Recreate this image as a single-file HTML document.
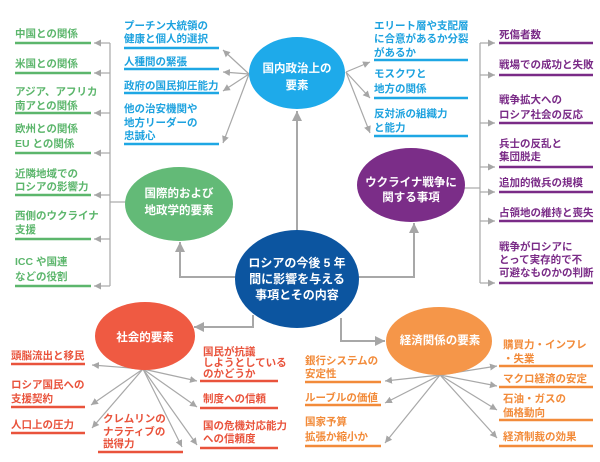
<!DOCTYPE html>
<html><head><meta charset="utf-8">
<style>
html,body{margin:0;padding:0;background:#fff;}
svg{display:block;}
text{font-family:"Liberation Sans","Noto Sans CJK JP",sans-serif;font-weight:bold;font-size:10.5px;}
.b{fill:#1da2df}.g{fill:#5cb66c}.p{fill:#7a2b87}.r{fill:#e9533c}.o{fill:#f28b3a}
.w{fill:#fff;font-size:11.5px;text-anchor:middle}
</style></head><body>
<svg width="600" height="462" viewBox="0 0 600 462" xmlns="http://www.w3.org/2000/svg">
<defs>
<marker id="s" markerUnits="userSpaceOnUse" markerWidth="8" markerHeight="8" refX="7" refY="4" orient="auto"><path d="M0,0.5 L7,4 L0,7.5 z" fill="#a6a6a6"/></marker>
<marker id="m" markerUnits="userSpaceOnUse" markerWidth="11" markerHeight="11" refX="10" refY="5.5" orient="auto"><path d="M0,0.5 L10,5.5 L0,10.5 z" fill="#a6a6a6"/></marker>
</defs>

<!-- main connectors -->
<g stroke="#a8a8a8" stroke-width="2" fill="none">
<line x1="297" y1="232" x2="297" y2="111" marker-end="url(#m)"/>
<polyline points="236,277 180,277 180,242" marker-end="url(#m)"/>
<polyline points="358,277 414,277 414,223" marker-end="url(#m)"/>
<polyline points="253,315 253,327 194,327" marker-end="url(#m)"/>
<polyline points="341,318 341,341 385,341" marker-end="url(#m)"/>
</g>

<!-- fan-out connectors -->
<g stroke="#a8a8a8" stroke-width="1.2" fill="none">
<line x1="249" y1="74" x2="223" y2="50" marker-end="url(#s)"/>
<line x1="249" y1="74" x2="223" y2="72" marker-end="url(#s)"/>
<line x1="249" y1="74" x2="223" y2="91" marker-end="url(#s)"/>
<line x1="249" y1="74" x2="223" y2="143" marker-end="url(#s)"/>
<line x1="346" y1="72" x2="370" y2="62" marker-end="url(#s)"/>
<line x1="346" y1="72" x2="370" y2="98" marker-end="url(#s)"/>
<line x1="346" y1="72" x2="370" y2="133" marker-end="url(#s)"/>

<line x1="464" y1="188" x2="480" y2="188"/>
<line x1="480" y1="43" x2="480" y2="283"/>
<line x1="480" y1="43" x2="495" y2="43" marker-end="url(#s)"/>
<line x1="480" y1="75" x2="495" y2="75" marker-end="url(#s)"/>
<line x1="480" y1="123" x2="495" y2="123" marker-end="url(#s)"/>
<line x1="480" y1="167" x2="495" y2="167" marker-end="url(#s)"/>
<line x1="480" y1="192" x2="495" y2="192" marker-end="url(#s)"/>
<line x1="480" y1="221" x2="495" y2="221" marker-end="url(#s)"/>
<line x1="480" y1="283" x2="495" y2="283" marker-end="url(#s)"/>

<line x1="126" y1="202" x2="110" y2="202"/>
<line x1="110" y1="43" x2="110" y2="286"/>
<line x1="110" y1="43" x2="94" y2="43" marker-end="url(#s)"/>
<line x1="110" y1="73" x2="94" y2="73" marker-end="url(#s)"/>
<line x1="110" y1="113" x2="94" y2="113" marker-end="url(#s)"/>
<line x1="110" y1="153" x2="94" y2="153" marker-end="url(#s)"/>
<line x1="110" y1="195" x2="94" y2="195" marker-end="url(#s)"/>
<line x1="110" y1="239" x2="94" y2="239" marker-end="url(#s)"/>
<line x1="110" y1="286" x2="94" y2="286" marker-end="url(#s)"/>

<line x1="143" y1="369" x2="92" y2="365" marker-end="url(#s)"/>
<line x1="143" y1="369" x2="91" y2="405" marker-end="url(#s)"/>
<line x1="143" y1="369" x2="92" y2="428" marker-end="url(#s)"/>
<line x1="143" y1="369" x2="182" y2="447" marker-end="url(#s)"/>
<line x1="143" y1="369" x2="197" y2="381" marker-end="url(#s)"/>
<line x1="143" y1="369" x2="197" y2="407" marker-end="url(#s)"/>
<line x1="143" y1="369" x2="197" y2="445" marker-end="url(#s)"/>

<line x1="440" y1="375" x2="385" y2="381" marker-end="url(#s)"/>
<line x1="440" y1="375" x2="385" y2="403" marker-end="url(#s)"/>
<line x1="440" y1="375" x2="385" y2="443" marker-end="url(#s)"/>
<line x1="440" y1="375" x2="497" y2="366" marker-end="url(#s)"/>
<line x1="440" y1="375" x2="497" y2="386" marker-end="url(#s)"/>
<line x1="440" y1="375" x2="497" y2="410" marker-end="url(#s)"/>
<line x1="440" y1="375" x2="497" y2="438" marker-end="url(#s)"/>
</g>

<!-- ellipses -->
<ellipse cx="297" cy="73" rx="48" ry="36" fill="#1eaaea"/>
<ellipse cx="179" cy="204" rx="54" ry="37" fill="#63ba77"/>
<ellipse cx="411" cy="185" rx="54" ry="37" fill="#7b2d88"/>
<ellipse cx="297" cy="279" rx="62" ry="49" fill="#0c55a0"/>
<ellipse cx="145" cy="336" rx="50" ry="34" fill="#ef5a42"/>
<ellipse cx="439" cy="341" rx="53" ry="34" fill="#f59649"/>

<!-- ellipse labels -->
<text class="w" x="297" y="72">国内政治上の</text>
<text class="w" x="297" y="89">要素</text>
<text class="w" x="179" y="197">国際的および</text>
<text class="w" x="179" y="214">地政学的要素</text>
<text class="w" x="411" y="186">ウクライナ戦争に</text>
<text class="w" x="411" y="201">関する事項</text>
<text class="w" x="297" y="267" style="font-size:12px">ロシアの今後 5 年</text>
<text class="w" x="297" y="283" style="font-size:12px">間に影響を与える</text>
<text class="w" x="297" y="299" style="font-size:12px">事項とその内容</text>
<text class="w" x="145" y="341">社会的要素</text>
<text class="w" x="440" y="344">経済関係の要素</text>

<!-- underlines -->
<g stroke-width="2.5">
<g stroke="#1ea7e4">
<line x1="124" y1="48" x2="219" y2="48"/>
<line x1="124" y1="69" x2="219" y2="69"/>
<line x1="124" y1="93" x2="219" y2="93"/>
<line x1="124" y1="144" x2="219" y2="144"/>
<line x1="374" y1="60" x2="468" y2="60"/>
<line x1="374" y1="98" x2="468" y2="98"/>
<line x1="374" y1="136" x2="468" y2="136"/>
</g>
<g stroke="#7a2b87">
<line x1="499" y1="43" x2="593" y2="43"/>
<line x1="499" y1="75" x2="593" y2="75"/>
<line x1="499" y1="123" x2="593" y2="123"/>
<line x1="499" y1="167" x2="593" y2="167"/>
<line x1="499" y1="192" x2="593" y2="192"/>
<line x1="499" y1="221" x2="593" y2="221"/>
<line x1="499" y1="283" x2="593" y2="283"/>
</g>
<g stroke="#5cb66c">
<line x1="15" y1="43" x2="91" y2="43"/>
<line x1="15" y1="73" x2="91" y2="73"/>
<line x1="15" y1="113" x2="91" y2="113"/>
<line x1="15" y1="153" x2="91" y2="153"/>
<line x1="15" y1="195" x2="91" y2="195"/>
<line x1="15" y1="239" x2="91" y2="239"/>
<line x1="15" y1="286" x2="91" y2="286"/>
</g>
<g stroke="#e9533c">
<line x1="11" y1="364" x2="85" y2="364"/>
<line x1="11" y1="407" x2="85" y2="407"/>
<line x1="11" y1="433" x2="85" y2="433"/>
<line x1="98" y1="452" x2="183" y2="452"/>
<line x1="200" y1="381" x2="278" y2="381"/>
<line x1="200" y1="408" x2="278" y2="408"/>
<line x1="200" y1="448" x2="278" y2="448"/>
</g>
<g stroke="#f28b3a">
<line x1="305" y1="382" x2="381" y2="382"/>
<line x1="305" y1="405" x2="381" y2="405"/>
<line x1="305" y1="446" x2="381" y2="446"/>
<line x1="499" y1="366" x2="593" y2="366"/>
<line x1="499" y1="387" x2="593" y2="387"/>
<line x1="499" y1="420" x2="593" y2="420"/>
<line x1="499" y1="446" x2="593" y2="446"/>
</g>
</g>

<!-- blue items -->
<g class="b">
<text x="124" y="29">プーチン大統領の</text>
<text x="124" y="42">健康と個人的選択</text>
<text x="124" y="65">人種間の緊張</text>
<text x="124" y="89">政府の国民抑圧能力</text>
<text x="124" y="112">他の治安機関や</text>
<text x="124" y="126">地方リーダーの</text>
<text x="124" y="139">忠誠心</text>
<text x="374" y="29">エリート層や支配層</text>
<text x="374" y="42">に合意があるか分裂</text>
<text x="374" y="56">があるか</text>
<text x="374" y="77">モスクワと</text>
<text x="374" y="92">地方の関係</text>
<text x="374" y="117">反対派の組織力</text>
<text x="374" y="131">と能力</text>
</g>

<!-- purple items -->
<g class="p">
<text x="499" y="38">死傷者数</text>
<text x="499" y="68">戦場での成功と失敗</text>
<text x="499" y="103">戦争拡大への</text>
<text x="499" y="118">ロシア社会の反応</text>
<text x="499" y="147">兵士の反乱と</text>
<text x="499" y="160">集団脱走</text>
<text x="499" y="186">追加的徴兵の規模</text>
<text x="499" y="216">占領地の維持と喪失</text>
<text x="499" y="250">戦争がロシアに</text>
<text x="499" y="263">とって実存的で不</text>
<text x="499" y="276">可避なものかの判断</text>
</g>

<!-- green items -->
<g class="g">
<text x="15" y="37">中国との関係</text>
<text x="15" y="67">米国との関係</text>
<text x="15" y="95">アジア、アフリカ</text>
<text x="15" y="109">南アとの関係</text>
<text x="15" y="132">欧州との関係</text>
<text x="15" y="147">EU との関係</text>
<text x="15" y="177">近隣地域での</text>
<text x="15" y="190">ロシアの影響力</text>
<text x="15" y="219">西側のウクライナ</text>
<text x="15" y="233">支援</text>
<text x="15" y="265">ICC や国連</text>
<text x="15" y="280">などの役割</text>
</g>

<!-- red items -->
<g class="r">
<text x="11" y="359">頭脳流出と移民</text>
<text x="11" y="388">ロシア国民への</text>
<text x="11" y="402">支援契約</text>
<text x="11" y="428">人口上の圧力</text>
<text x="103" y="422">クレムリンの</text>
<text x="103" y="435">ナラティブの</text>
<text x="103" y="447">説得力</text>
<text x="203" y="355">国民が抗議</text>
<text x="203" y="366">しようとしている</text>
<text x="203" y="377">のかどうか</text>
<text x="203" y="402">制度への信頼</text>
<text x="203" y="429">国の危機対応能力</text>
<text x="203" y="442">への信頼度</text>
</g>

<!-- orange items -->
<g class="o">
<text x="305" y="364">銀行システムの</text>
<text x="305" y="377">安定性</text>
<text x="305" y="401">ルーブルの価値</text>
<text x="305" y="425">国家予算</text>
<text x="305" y="440">拡張か縮小か</text>
<text x="503" y="348">購買力・インフレ</text>
<text x="503" y="362">・失業</text>
<text x="503" y="382">マクロ経済の安定</text>
<text x="503" y="402">石油・ガスの</text>
<text x="503" y="416">価格動向</text>
<text x="503" y="440">経済制裁の効果</text>
</g>
</svg>
</body></html>
